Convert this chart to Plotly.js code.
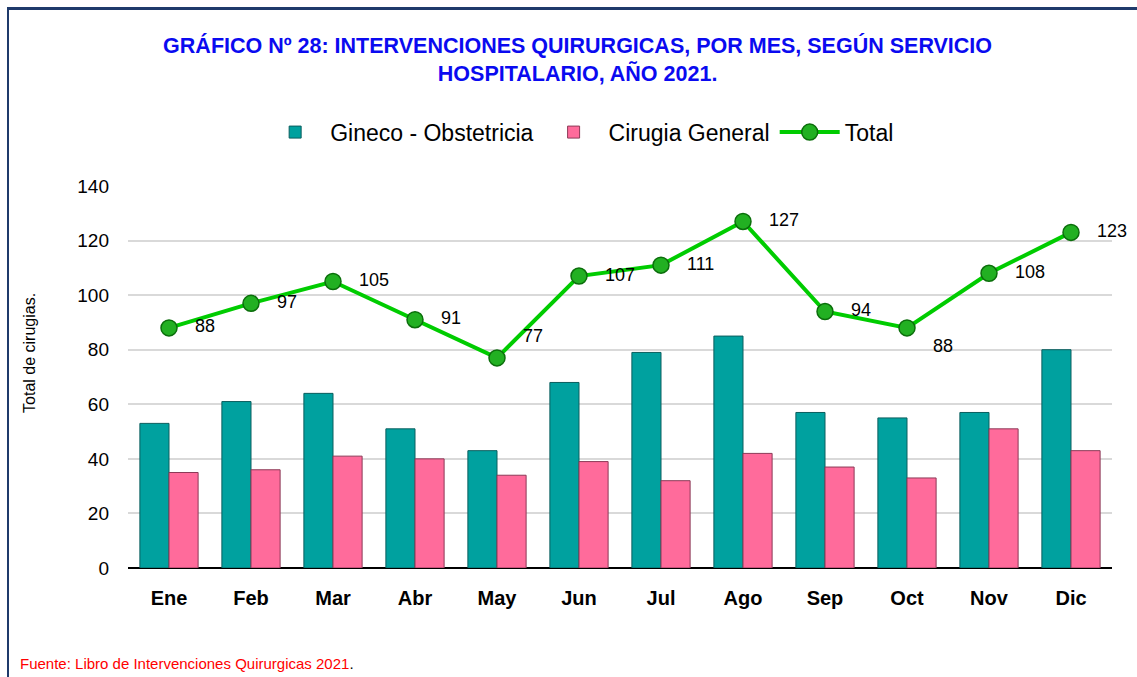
<!DOCTYPE html>
<html>
<head>
<meta charset="utf-8">
<script src="https://cdn.plot.ly/plotly-3.0.1.min.js"></script>
<style>
  html, body { margin: 0; padding: 0; background: #fff; }
  #plot { width: 1137px; height: 677px; }
  #frame { position: absolute; left: 7px; top: 7px; width: 1140px; height: 680px;
           border-left: 2px solid #1f3a6b; border-top: 3px solid #1f3a6b; pointer-events: none; }
</style>
</head>
<body>
<div id="plot"></div>
<div id="frame"></div>
<script>
var meses = ["Ene", "Feb", "Mar", "Abr", "May", "Jun", "Jul", "Ago", "Sep", "Oct", "Nov", "Dic"];
var gineco = [53, 61, 64, 51, 43, 68, 79, 85, 57, 55, 57, 80];
var cirugia = [35, 36, 41, 40, 34, 39, 32, 42, 37, 33, 51, 43];
var total = [88, 97, 105, 91, 77, 107, 111, 127, 94, 88, 108, 123];

var fontFam = "Liberation Sans Narrow, Liberation Sans, Arial, sans-serif";

// label placement next to each point of the total line
var posTotal = ["middle right", "middle right", "middle right", "middle right", "top right",
  "middle right", "middle right", "middle right", "middle right", "bottom right",
  "middle right", "middle right"];

var trace1 = {
  x: meses,
  y: gineco,
  name: "Gineco - Obstetricia",
  type: "bar",
  marker: { color: "#00a19f", line: { color: "#0a5e5e", width: 1 } }
};

var trace2 = {
  x: meses,
  y: cirugia,
  name: "Cirugia General",
  type: "bar",
  marker: { color: "#ff6b9b", line: { color: "#8c3a57", width: 1 } }
};

var trace3 = {
  x: meses,
  y: total,
  name: "Total",
  type: "scatter",
  mode: "lines+markers+text",
  cliponaxis: false,
  text: total.map(function (v) { return "   " + v; }),
  textposition: posTotal,
  textfont: { family: fontFam, size: 18, color: "#000" },
  line: { color: "#00cc00", width: 4 },
  marker: { color: "#22b022", size: 16, line: { color: "#0b6e0b", width: 1.5 } }
};

var data = [trace1, trace2, trace3];

var layout = {
  width: 1137,
  height: 677,
  margin: { l: 128, r: 25, t: 186, b: 109 },
  paper_bgcolor: "#fff",
  plot_bgcolor: "#fff",
  title: {
    text: "<b>GRÁFICO Nº 28: INTERVENCIONES QUIRURGICAS, POR MES, SEGÚN SERVICIO<br>HOSPITALARIO, AÑO 2021.</b>",
    font: { family: fontFam, size: 21.5, color: "#0a0af0" },
    x: 0.508,
    xanchor: "center",
    y: 0.921,
    yanchor: "middle"
  },
  showlegend: true,
  legend: {
    orientation: "h",
    x: 0.459,
    xanchor: "center",
    y: 1.141,
    yanchor: "middle",
    font: { family: fontFam, size: 23, color: "#000" },
    traceorder: "normal",
    itemwidth: 60
  },
  barmode: "group",
  bargap: 0.29,
  bargroupgap: 0,
  xaxis: {
    automargin: false,
    range: [-0.5, 11.5],
    tickfont: { family: fontFam, size: 20, color: "#000" },
    tickprefix: "<b>",
    ticksuffix: "</b>",
    ticklabelstandoff: 16,
    showline: false,
    ticks: ""
  },
  yaxis: {
    automargin: false,
    range: [0, 140],
    dtick: 20,
    tickfont: { family: fontFam, size: 19, color: "#000" },
    ticklabelstandoff: 18,
    gridcolor: "#d9d9d9",
    gridwidth: 2,
    zeroline: true,
    zerolinecolor: "#000",
    zerolinewidth: 2,
    ticks: "",
    ticklen: 0
  },
  annotations: [{
    xref: "paper", yref: "paper",
    x: -0.0996, y: 0.563,
    xanchor: "center", yanchor: "middle",
    textangle: -90,
    showarrow: false,
    text: "Total de cirugias.",
    font: { family: fontFam, size: 16, color: "#000" }
  }, {
    xref: "paper", yref: "paper",
    x: -0.112, y: -0.249,
    xanchor: "left", yanchor: "middle",
    showarrow: false,
    text: "<span style='color:#ff0000'>Fuente: Libro de Intervenciones Quirurgicas 2021</span>.",
    font: { family: fontFam, size: 15, color: "#000" }
  }]
};

Plotly.newPlot("plot", data, layout, { displayModeBar: false });
</script>
</body>
</html>
